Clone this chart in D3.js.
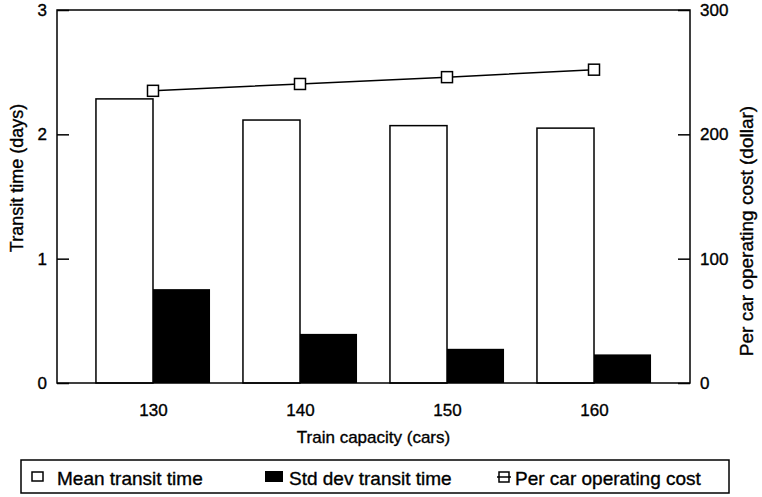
<!DOCTYPE html>
<html>
<head>
<meta charset="utf-8">
<script src="https://cdn.jsdelivr.net/npm/d3@7"></script>
<style>
  body { margin: 0; background: #fff; }
  svg text { font-family: "Liberation Sans", Arial, sans-serif; fill: #000; stroke: #000; stroke-width: 0.35px; }
</style>
</head>
<body>
<div id="chart"></div>
<script>
// chart data
var capacities = ["130", "140", "150", "160"];
var meanTransit = [2.285, 2.115, 2.07, 2.05];
var stdTransit = [0.755, 0.395, 0.275, 0.23];
var carCost = [235, 240.5, 246, 252];
var leftTicks = [0, 1, 2, 3];
var rightTicks = [0, 100, 200, 300];

var W = 762, H = 497;
var margin = {top: 10, left: 57, right: 72, bottom: 114};
var width = W - margin.left - margin.right,
    height = H - margin.top - margin.bottom;

var svg = d3.select("#chart")
    .append("svg")
    .attr("width", W)
    .attr("height", H);

var g = svg.append("g")
    .attr("transform", "translate(" + margin.left + "," + margin.top + ")");

var x = d3.scalePoint()
    .domain(capacities)
    .range([0, width])
    .padding(0.653);

var y = d3.scaleLinear().domain([0, 3]).range([height, 0]);
var y2 = d3.scaleLinear().domain([0, 300]).range([height, 0]);

var barW = x.step() * 0.388;

// mean transit bars (white)
g.selectAll(".mean")
    .data(capacities)
    .enter().append("rect")
    .attr("class", "mean")
    .attr("x", d => x(d) - barW)
    .attr("y", (d, i) => y(meanTransit[i]))
    .attr("width", barW)
    .attr("height", (d, i) => height - y(meanTransit[i]))
    .attr("fill", "#fff")
    .attr("stroke", "#000")
    .attr("stroke-width", 1.5);

// std dev bars (black)
g.selectAll(".std")
    .data(capacities)
    .enter().append("rect")
    .attr("class", "std")
    .attr("x", d => x(d))
    .attr("y", (d, i) => y(stdTransit[i]))
    .attr("width", barW)
    .attr("height", (d, i) => height - y(stdTransit[i]))
    .attr("fill", "#000");

// cost line
var line = d3.line()
    .x((d, i) => x(capacities[i]))
    .y(d => y2(d));

g.append("path")
    .datum(carCost)
    .attr("d", line)
    .attr("fill", "none")
    .attr("stroke", "#000")
    .attr("stroke-width", 1.5);

var mk = 11;
g.selectAll(".marker")
    .data(carCost)
    .enter().append("rect")
    .attr("class", "marker")
    .attr("x", (d, i) => x(capacities[i]) - mk / 2)
    .attr("y", d => y2(d) - mk / 2)
    .attr("width", mk)
    .attr("height", mk)
    .attr("fill", "#fff")
    .attr("stroke", "#000")
    .attr("stroke-width", 1.5);

// frame
g.append("rect")
    .attr("width", width)
    .attr("height", height)
    .attr("fill", "none")
    .attr("stroke", "#000")
    .attr("stroke-width", 1.5);

// axes, ticks pointing inward
var yAxis = g.append("g")
    .call(d3.axisLeft(y).tickValues(leftTicks).tickSize(-12).tickPadding(10).tickFormat(d3.format("d")));
var y2Axis = g.append("g")
    .attr("transform", "translate(" + width + ",0)")
    .call(d3.axisRight(y2).tickValues(rightTicks).tickSize(-12).tickPadding(10).tickFormat(d3.format("d")));
var xAxis = g.append("g")
    .attr("transform", "translate(0," + height + ")")
    .call(d3.axisBottom(x).tickSize(0).tickPadding(21));

[yAxis, y2Axis, xAxis].forEach(a => {
    a.select(".domain").remove();
    a.selectAll("line").attr("stroke", "#000").attr("stroke-width", 1.5);
    a.selectAll("text").style("font-size", "17px").attr("font-family", null);
});
xAxis.selectAll("line").remove();

// axis titles
svg.append("text")
    .attr("transform", "translate(23,178) rotate(-90)")
    .attr("text-anchor", "middle")
    .style("font-size", "18px")
    .text("Transit time (days)");

svg.append("text")
    .attr("transform", "translate(753,231) rotate(-90)")
    .attr("text-anchor", "middle")
    .style("font-size", "19px")
    .text("Per car operating cost (dollar)");

svg.append("text")
    .attr("x", margin.left + width / 2)
    .attr("y", 443)
    .attr("text-anchor", "middle")
    .style("font-size", "17px")
    .text("Train capacity (cars)");

// legend
var legend = svg.append("g");
legend.append("rect")
    .attr("x", 21).attr("y", 460)
    .attr("width", 708).attr("height", 33)
    .attr("fill", "none")
    .attr("stroke", "#000")
    .attr("stroke-width", 1.5);

legend.append("rect")
    .attr("x", 32).attr("y", 472).attr("width", 11).attr("height", 9)
    .attr("fill", "#fff").attr("stroke", "#000").attr("stroke-width", 1.5);
legend.append("text").attr("x", 57).attr("y", 485)
    .style("font-size", "19px").text("Mean transit time");

legend.append("rect")
    .attr("x", 265).attr("y", 471).attr("width", 18).attr("height", 11)
    .attr("fill", "#000");
legend.append("text").attr("x", 289).attr("y", 485)
    .style("font-size", "19px").text("Std dev transit time");

legend.append("line")
    .attr("x1", 497).attr("x2", 511).attr("y1", 477).attr("y2", 477)
    .attr("stroke", "#000").attr("stroke-width", 1.5);
legend.append("rect")
    .attr("x", 499).attr("y", 472).attr("width", 10).attr("height", 10)
    .attr("fill", "none").attr("stroke", "#000").attr("stroke-width", 1.5);
legend.append("text").attr("x", 515).attr("y", 485)
    .style("font-size", "19px").text("Per car operating cost");
</script>
</body>
</html>
